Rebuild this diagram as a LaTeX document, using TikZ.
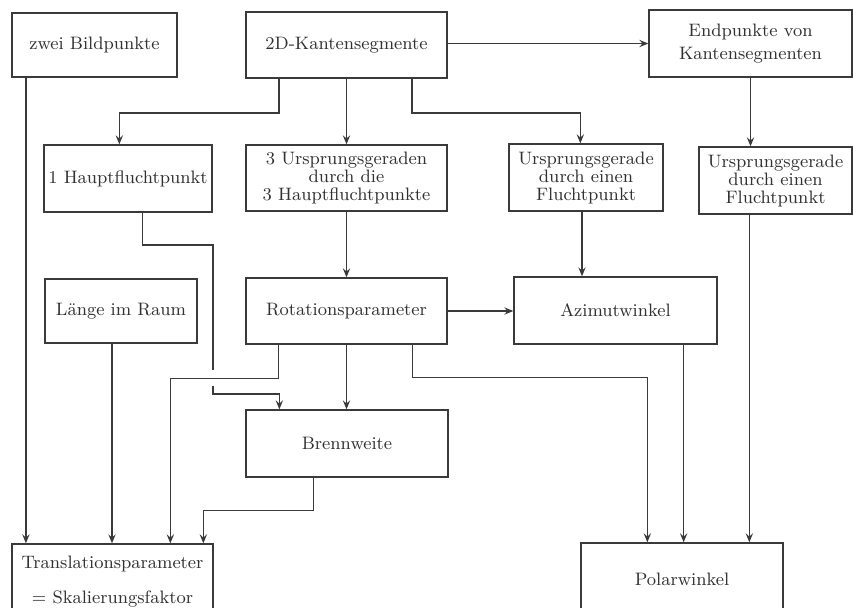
\documentclass[tikz,border=0pt]{standalone}
\usetikzlibrary{arrows.meta,calc}
\definecolor{ink}{HTML}{3A3A3A}
\definecolor{txt}{HTML}{303030}
\begin{document}
\begin{tikzpicture}[x=0.5pt,y=-0.5pt,
  box/.style={draw=ink,line width=0.65pt,inner sep=0pt,align=center,text=txt,
    font=\fontsize{9}{9}\selectfont},
  thickbox/.style={box,line width=1.1pt},
  conn/.style={draw=ink,line width=0.65pt},
  arr/.style={conn,-{Stealth[length=4.5pt,width=3.6pt,inset=1.6pt]}}]
\fill[white] (0,0) rectangle (853,607);
\useasboundingbox (0,0) rectangle (853,607);
\clip (0,0) rectangle (853,607);

% boxes
\node[thickbox,minimum width=82.5pt,minimum height=32pt] (zwei) at (94.5,45) {zwei Bildpunkte};
\node[thickbox,minimum width=100.5pt,minimum height=33pt] (kant) at (346.5,45) {2D-Kantensegmente};
\node[box,minimum width=101.5pt,minimum height=33.5pt,font=\fontsize{9}{11.5}\selectfont] (endp) at (750.5,43.5) {Endpunkte von\\Kantensegmenten};
\node[box,minimum width=84pt,minimum height=33.5pt] (haupt) at (128,178.5) {1 Hauptfluchtpunkt};
\node[box,minimum width=100.5pt,minimum height=33pt] (urs3) at (346.5,178) {3 Ursprungsgeraden\\durch die\\3 Hauptfluchtpunkte};
\node[box,minimum width=77pt,minimum height=33.5pt] (ursm) at (586,177.5) {Ursprungsgerade\\durch einen\\Fluchtpunkt};
\node[box,minimum width=76.5pt,minimum height=33.5pt] (ursr) at (775.5,180.5) {Ursprungsgerade\\durch einen\\Fluchtpunkt};
\node[thickbox,minimum width=76pt,minimum height=32pt] (laenge) at (121,311) {Länge im Raum};
\node[box,minimum width=100.5pt,minimum height=33pt] (rot) at (346.5,311) {Rotationsparameter};
\node[box,minimum width=101.5pt,minimum height=33.5pt] (azi) at (615.5,310.5) {Azimutwinkel};
\node[box,minimum width=101pt,minimum height=33.5pt] (brenn) at (347,443.5) {Brennweite};
\node[box,minimum width=100.5pt,minimum height=38pt,font=\fontsize{9}{17.5}\selectfont] (trans) at (112.5,582) {Translationsparameter\\= Skalierungsfaktor};
\node[box,minimum width=101pt,minimum height=36pt] (polar) at (682,579) {Polarwinkel};

% connectors from 2D-Kantensegmente
\draw[arr] (kant.east |- endp.west) -- (endp.west);
\draw[arr] ($(kant.south west)+(34,0)$) -- ++(0,34) -| ($(haupt.north west)+(76,0)$);
\draw[arr] (kant.south) -- (kant.south |- urs3.north);
\draw[arr] ($(kant.south west)+(167,0)$) -- ++(0,34) -| ($(ursm.north west)+(72,0)$);
\draw[arr] (endp.south) -- (endp.south |- ursr.north);

% to Azimutwinkel
\draw[arr] ($(ursm.south)+(-4,0)$) coordinate (um) -- (um |- azi.north);
\draw[arr] (rot.east) -- (rot.east -| azi.west);
\draw[arr] (urs3.south) -- (urs3.south |- rot.north);

% 1 Hauptfluchtpunkt -> Brennweite (with gap at crossing)
\coordinate (hb1) at (213,245);
\coordinate (g1) at (213,370);
\coordinate (g2) at (213,386);
\coordinate (hb2) at (213,394);
\draw[conn] ($(haupt.south west)+(99,0)$) |- (hb1) -- (g1);
\draw[arr] (g2) -- (hb2) -| ($(brenn.north west)+(34,0)$);

% Rotationsparameter
\draw[arr] ($(rot.south west)+(33,0)$) -- ++(0,34) -| ($(trans.north west)+(159,0)$);
\draw[arr] (rot.south) -- (rot.south |- brenn.north);
\draw[arr] ($(rot.south west)+(167,0)$) -- ++(0,33) -| ($(polar.north west)+(67,0)$);

% to Translationsparameter
\draw[arr] ($(zwei.south west)+(15,0)$) coordinate (zw) -- (zw |- trans.north);
\draw[arr] ($(laenge.south)+(-9,0)$) coordinate (la) -- (la |- trans.north);
\draw[arr] ($(brenn.south west)+(68,0)$) -- ++(0,33) -| ($(trans.north west)+(192,0)$);

% to Polarwinkel
\draw[arr] ($(azi.south east)+(-34,0)$) coordinate (az) -- (az |- polar.north);
\draw[arr] ($(ursr.south west)+(51,0)$) coordinate (ur) -- (ur |- polar.north);
\end{tikzpicture}
\end{document}
